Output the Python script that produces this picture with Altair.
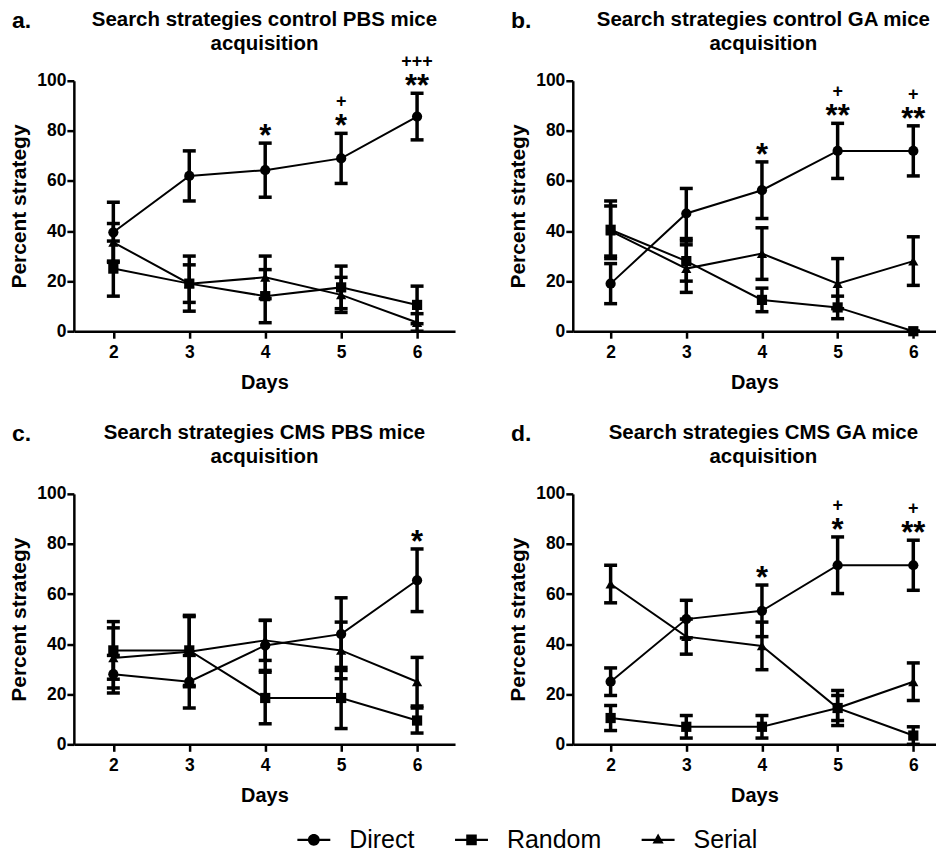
import altair as alt
import pandas as pd

days = [2, 3, 4, 5, 6]
strategies = ["Direct", "Random", "Serial"]
marker_shapes = ["circle", "square", "triangle-up"]
y_ticks = [0, 20, 40, 60, 80, 100]

# ---- panel a: control PBS ----
a_direct = [39.5, 62.0, 64.3, 69.0, 85.7]
a_direct_sem = [12.0, 10.0, 10.8, 10.0, 9.3]
a_random = [25.0, 19.0, 14.0, 17.5, 10.5]
a_random_sem = [11.0, 11.0, 10.6, 8.5, 7.5]
a_serial = [35.5, 19.0, 21.5, 14.5, 3.5]
a_serial_sem = [7.5, 7.5, 8.5, 7.0, 3.5]
a_stars = ["", "", "*", "*", "**"]
a_plus = ["", "", "", "+", "+++"]

# ---- panel b: control GA ----
b_direct = [19.0, 47.0, 56.3, 72.0, 72.0]
b_direct_sem = [8.0, 10.0, 11.3, 11.0, 10.0]
b_random = [40.5, 28.0, 12.5, 9.5, 0.0]
b_random_sem = [11.5, 8.0, 4.7, 4.5, 0.0]
b_serial = [40.0, 25.0, 31.0, 19.0, 28.0]
b_serial_sem = [10.0, 9.5, 10.3, 10.0, 9.7]
b_stars = ["", "", "*", "**", "**"]
b_plus = ["", "", "", "+", "+"]

# ---- panel c: CMS PBS ----
c_direct = [28.0, 25.0, 39.5, 44.0, 65.5]
c_direct_sem = [7.5, 10.5, 10.0, 14.5, 12.5]
c_random = [37.5, 37.5, 18.5, 18.5, 9.5]
c_random_sem = [11.5, 14.0, 10.3, 12.2, 5.0]
c_serial = [34.5, 37.0, 41.5, 37.5, 25.0]
c_serial_sem = [12.0, 14.0, 8.0, 11.3, 9.7]
c_stars = ["", "", "", "", "*"]
c_plus = ["", "", "", "", ""]

# ---- panel d: CMS GA ----
d_direct = [25.0, 50.0, 53.3, 71.5, 71.5]
d_direct_sem = [5.5, 7.5, 10.3, 11.3, 10.0]
d_random = [10.5, 7.0, 7.0, 14.5, 3.5]
d_random_sem = [5.0, 4.5, 4.5, 5.0, 3.5]
d_serial = [64.0, 43.0, 39.3, 14.5, 25.0]
d_serial_sem = [7.5, 7.0, 9.5, 7.0, 7.5]
d_stars = ["", "", "*", "*", "**"]
d_plus = ["", "", "", "+", "+"]

FONT = "Liberation Sans"

# legend symbols: a short bar with the marker on it (all sub-paths clockwise, filled)
LEG_BAR = "M-1,-0.065H1V0.065H-1Z"
legend_paths = [
    LEG_BAR + "M-0.36,0A0.36,0.36,0,1,1,0.36,0A0.36,0.36,0,1,1,-0.36,0Z",
    LEG_BAR + "M-0.32,-0.32H0.32V0.32H-0.32Z",
    LEG_BAR + "M0,-0.38L0.34,0.22H-0.34Z",
]


def panel(letter, title, means, sems, stars, plus, xdomain, width, title_cx, with_legend):
    rows = []
    for name, m, s in zip(strategies, means, sems):
        for d, v, e in zip(days, m, s):
            rows.append({"day": d, "strategy": name, "mean": v, "lo": v - e, "hi": v + e})
    df = pd.DataFrame(rows)
    ann = pd.DataFrame({
        "day": days,
        "hi": [v + e for v, e in zip(means[0], sems[0])],
        "star": stars,
        "plus": plus,
    })
    base = alt.Chart(df)
    xs = alt.Scale(domain=xdomain, nice=False, zero=False)
    ys = alt.Scale(domain=[0, 100], nice=False)
    x = alt.X("day:Q", scale=xs, axis=alt.Axis(values=days, format="d", title="Days"))
    ytitle = "Percent strategy"
    yaxis = alt.Axis(values=y_ticks, title=ytitle)

    lines = base.mark_line(color="black", strokeWidth=2).encode(
        x=x, y=alt.Y("mean:Q", scale=ys, axis=yaxis, title=ytitle), detail="strategy:N"
    )
    rules = base.mark_rule(color="black", strokeWidth=3.5).encode(
        x=x, y=alt.Y("lo:Q", scale=ys, title=ytitle), y2="hi:Q"
    )
    cap_lo = base.mark_tick(color="black", opacity=1, orient="horizontal", size=13, thickness=3.5).encode(
        x=x, y=alt.Y("lo:Q", scale=ys, title=ytitle)
    )
    cap_hi = base.mark_tick(color="black", opacity=1, orient="horizontal", size=13, thickness=3.5).encode(
        x=x, y=alt.Y("hi:Q", scale=ys, title=ytitle)
    )
    layers = [lines, rules, cap_lo, cap_hi]
    for name, shp in zip(strategies, marker_shapes):
        layers.append(
            base.transform_filter(alt.datum.strategy == name)
            .mark_point(filled=True, size=105, opacity=1, color="black", shape=shp)
            .encode(x=x, y=alt.Y("mean:Q", scale=ys, title=ytitle))
        )
    if with_legend:
        layers.append(
            base.mark_point(filled=True, size=0, color="black").encode(
                x=x,
                y=alt.Y("mean:Q", scale=ys, title=ytitle),
                shape=alt.Shape(
                    "strategy:N",
                    scale=alt.Scale(domain=strategies, range=legend_paths),
                    legend=alt.Legend(
                        title=None,
                        orient="none",
                        legendX=223,
                        legendY=743,
                        direction="horizontal",
                        symbolSize=1089,
                        symbolFillColor="black",
                        symbolOpacity=1,
                        labelFont=FONT,
                        labelFontSize=25,
                        labelColor="black",
                        labelOffset=18,
                        columnPadding=37,
                    ),
                ),
            )
        )
    star_df = ann[ann["star"] != ""]
    if len(star_df):
        layers.append(
            alt.Chart(star_df).mark_text(font=FONT, fontWeight="bold", fontSize=31, baseline="alphabetic", dy=3, color="black").encode(
                x=x, y=alt.Y("hi:Q", scale=ys, title=ytitle), text="star:N"
            )
        )
    plus_df = ann[ann["plus"] != ""]
    if len(plus_df):
        layers.append(
            alt.Chart(plus_df).mark_text(font=FONT, fontWeight="bold", fontSize=18, baseline="alphabetic", dy=-26, color="black").encode(
                x=x, y=alt.Y("hi:Q", scale=ys, title=ytitle), text="plus:N"
            )
        )
    # panel letter and two-line heading
    layers.append(
        alt.Chart(pd.DataFrame({"t": [letter]})).mark_text(
            font=FONT, fontWeight="bold", fontSize=23, align="left", baseline="alphabetic", color="black"
        ).encode(x=alt.value(-62), y=alt.value(-53), text="t:N")
    )
    layers.append(
        alt.Chart(pd.DataFrame({"t": [title[0]]})).mark_text(
            font=FONT, fontWeight="bold", fontSize=20.5, align="center", baseline="alphabetic", color="black"
        ).encode(x=alt.value(title_cx), y=alt.value(-54.5), text="t:N")
    )
    layers.append(
        alt.Chart(pd.DataFrame({"t": [title[1]]})).mark_text(
            font=FONT, fontWeight="bold", fontSize=20.5, align="center", baseline="alphabetic", color="black"
        ).encode(x=alt.value(title_cx), y=alt.value(-31), text="t:N")
    )
    return alt.layer(*layers).properties(width=width, height=251)


pa = panel("a.", ["Search strategies control PBS mice", "acquisition"],
           [a_direct, a_random, a_serial], [a_direct_sem, a_random_sem, a_serial_sem],
           a_stars, a_plus, [1.48, 6.5], 382, 191, True)
pb = panel("b.", ["Search strategies control GA mice", "acquisition"],
           [b_direct, b_random, b_serial], [b_direct_sem, b_random_sem, b_serial_sem],
           b_stars, b_plus, [1.5, 6.3], 364, 191, False)
pc = panel("c.", ["Search strategies CMS PBS mice", "acquisition"],
           [c_direct, c_random, c_serial], [c_direct_sem, c_random_sem, c_serial_sem],
           c_stars, c_plus, [1.48, 6.5], 382, 191, False)
pd_ = panel("d.", ["Search strategies CMS GA mice", "acquisition"],
            [d_direct, d_random, d_serial], [d_direct_sem, d_random_sem, d_serial_sem],
            d_stars, d_plus, [1.5, 6.3], 364, 191, False)

chart = alt.vconcat(
    alt.hconcat(pa, pb, spacing=52),
    alt.hconcat(pc, pd_, spacing=52),
    spacing=30,
).properties(
    padding={"left": 0, "top": 1, "right": 0, "bottom": 0},
    background="white",
).configure_view(stroke=None).configure_axis(
    domainColor="black",
    domainWidth=2.5,
    tickColor="black",
    tickWidth=2.5,
    tickSize=7,
    grid=False,
    labelFont=FONT,
    labelFontWeight="bold",
    labelFontSize=17.5,
    labelColor="black",
    titleFont=FONT,
    titleFontWeight="bold",
    titleColor="black",
).configure_axisY(
    labelPadding=1,
    titlePadding=7,
    titleFontSize=21,
).configure_axisX(
    labelPadding=5,
    titlePadding=12,
    titleFontSize=20,
)

chart.save("out.html", embed_options={"renderer": "svg", "actions": False})
